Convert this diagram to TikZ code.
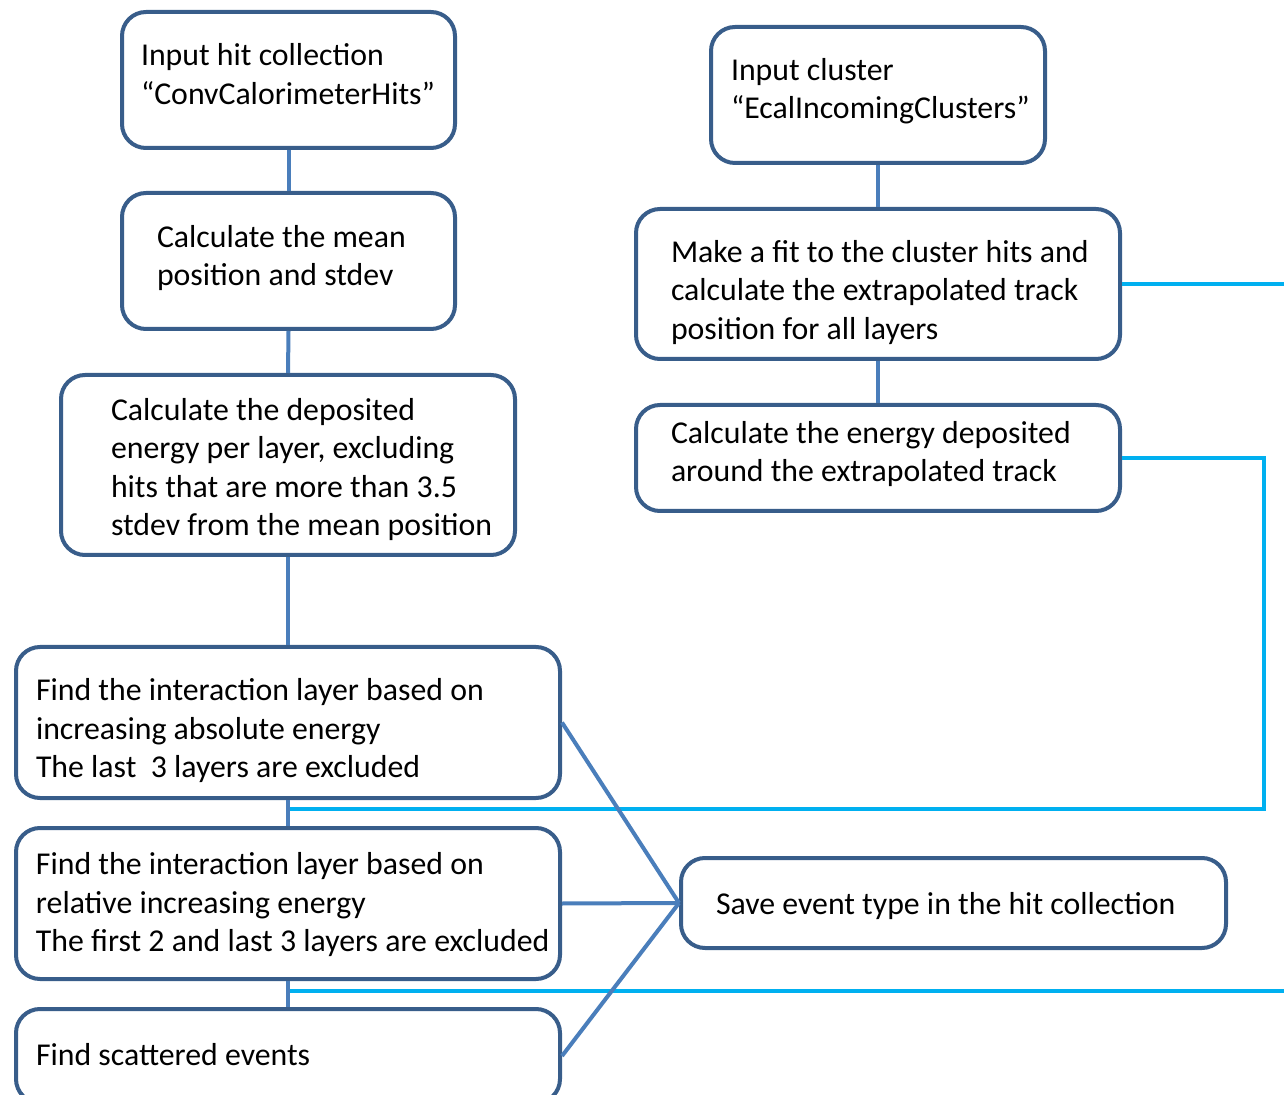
\documentclass[tikz,border=0pt]{standalone}
\usepackage{fontspec}
\setmainfont{Carlito}
\hyphenpenalty=10000
\definecolor{boxblue}{HTML}{385D8A}
\definecolor{linkblue}{HTML}{4A7EBB}
\definecolor{trackblue}{HTML}{00B0F0}
\tikzstyle{stepbox}=[draw=boxblue, line width=2pt, rounded corners=12pt, fill=white,
    anchor=north west, align=flush left, inner ysep=0pt, text=black,
    font=\fontsize{15.9pt}{19.25pt}\selectfont]
\tikzstyle{link}=[linkblue, line width=2pt]
\tikzstyle{track}=[trackblue, line width=2pt]
\tikzset{textshift/.style={execute at begin node={\leftskip=#1}, execute at end node={\par}},
    lift/.style={text height=0pt, text depth=#1},
    drop/.style={text height=#1, text depth=0pt}}

\begin{document}
\begin{tikzpicture}[x=0.5pt, y=-0.5pt]
\path[use as bounding box, clip] (0,0) rectangle (1284,1095);
% Hit chain
    \node[stepbox, text width=147.5pt, inner xsep=9.5pt, minimum height=68pt, lift=14pt] (hits) at (120,10)
        {Input hit collection\\“ConvCalorimeterHits”};
    \node[stepbox, text width=131.5pt, inner xsep=17.5pt, minimum height=68pt, lift=13.5pt] (mean) at (120,191)
        {Calculate the mean\\position and stdev};
    \node[stepbox, text width=209pt, inner xsep=9pt, minimum height=90pt, lift=44.5pt, textshift=16pt] (deposit) at (59,373)
        {Calculate the deposited\\energy per layer, excluding\\hits that are more than 3.5\\stdev from the mean position};
    \node[stepbox, text width=252pt, inner xsep=10pt, minimum height=75.5pt, lift=22pt] (abslayer) at (14,645)
        {Find the interaction layer based on\\increasing absolute energy\\The last~~3 layers are excluded};
    \node[stepbox, text width=270pt, inner xsep=1pt, minimum height=75.5pt, lift=29pt, textshift=9pt] (rellayer) at (14,826)
        {Find the interaction layer based on\\relative increasing energy\\The first 2 and last 3 layers are excluded};
    \node[stepbox, text width=252pt, inner xsep=10pt, minimum height=47pt, drop=9.5pt] (scatter) at (14,1007)
        {Find scattered events};
% Cluster chain
    \node[stepbox, text width=155pt, inner xsep=6pt, minimum height=68pt, lift=14.5pt, textshift=4pt] (cluster) at (709,25)
        {Input cluster\\“EcalIncomingClusters”};
    \node[stepbox, text width=216pt, inner xsep=13pt, minimum height=75pt, lift=21.5pt, textshift=4.5pt] (fit) at (634,207)
        {Make a fit to the cluster hits and\\calculate the extrapolated track\\position for all layers};
    \node[stepbox, text width=207pt, inner xsep=17.5pt, minimum height=53pt, lift=14.5pt] (track) at (634,403)
        {Calculate the energy deposited\\around the extrapolated track};
    \node[stepbox, text width=237.5pt, inner xsep=17.5pt, minimum height=45pt, drop=11.5pt] (save) at (679,856)
        {Save event type in the hit collection};
% Track lines
    \coordinate (join1) at (287,809);
    \coordinate (join2) at (287,991);
    \coordinate (rail) at (1264,809);
    \coordinate (edge) at (1284,0);
    \draw[track] (fit.east) -- (fit.east -| edge);
    \draw[track] (track.east) -| (rail) -- (join1);
    \draw[track] (join2) -- (join2 -| edge);
% Links
    \draw[link] (hits.south) -- (mean.north);
    \draw[link] (mean.south) -- (deposit.north);
    \draw[link] (deposit.south) -- (abslayer.north);
    \draw[link] (abslayer.south) -- (rellayer.north);
    \draw[link] (rellayer.south) -- (scatter.north);
    \draw[link] (cluster.south) -- (fit.north);
    \draw[link] (fit.south) -- (track.north);
    \draw[link] (abslayer.east) -- (save.west);
    \draw[link] (rellayer.east) -- (save.west);
    \draw[link] (scatter.east) -- (save.west);
\end{tikzpicture}
\end{document}
